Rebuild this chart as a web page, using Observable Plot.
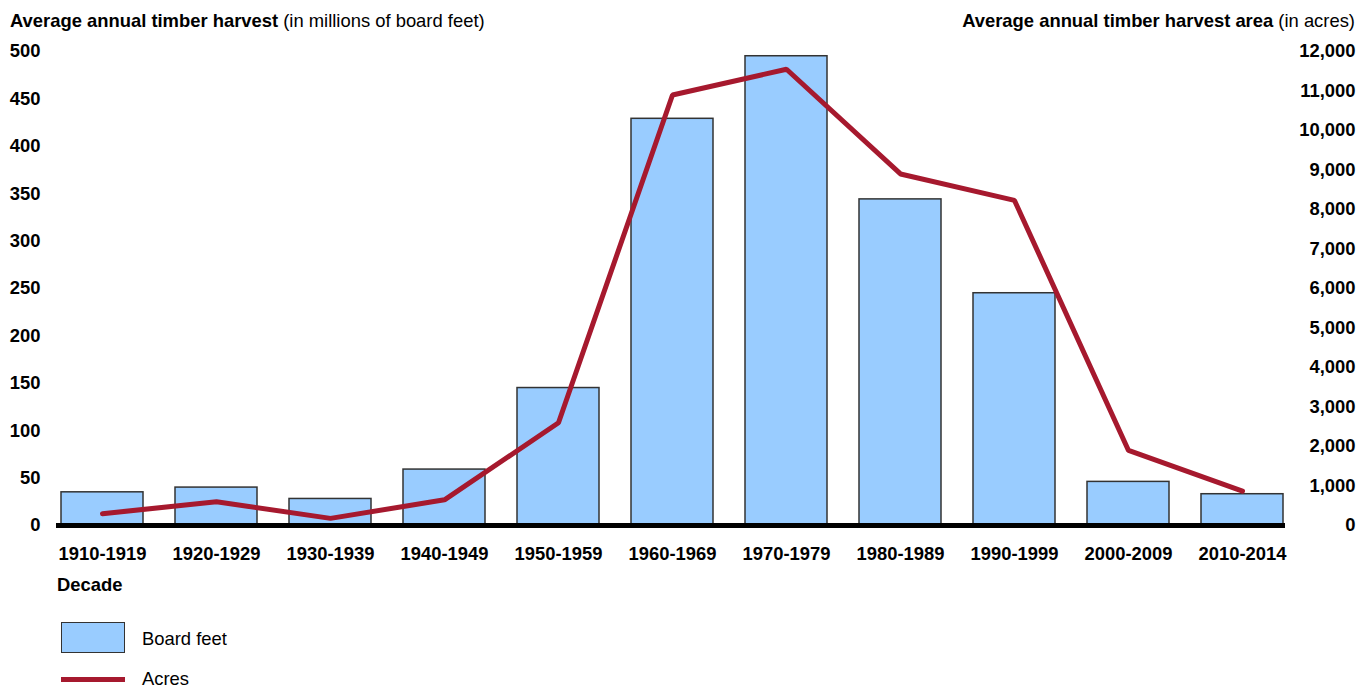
<!DOCTYPE html>
<html>
<head>
<meta charset="utf-8">
<script src="https://cdn.jsdelivr.net/npm/d3@7"></script>
<script src="https://cdn.jsdelivr.net/npm/@observablehq/plot@0.6"></script>
<style>
  html, body { margin: 0; padding: 0; background: #fff; }
  #wrap { position: relative; width: 1369px; height: 690px; font-family: "Liberation Sans", Arial, sans-serif; font-size: 18.4px; color: #000; }
  #wrap .t { position: absolute; line-height: 18px; white-space: nowrap; }
  #chart { position: absolute; left: 0; top: 0; }
  .sw-box { position: absolute; left: 61px; top: 622px; width: 62px; height: 29px; background: #99CCFF; border: 1.5px solid #333; }
  .sw-line { position: absolute; left: 61px; top: 676.5px; width: 64px; height: 5px; background: #A6192E; }
</style>
</head>
<body>
<div id="wrap">
  <div id="chart"></div>
  <div class="t" style="left:10px; top:12px;"><b>Average annual timber harvest</b> (in millions of board feet)</div>
  <div class="t" style="right:14px; top:12px;"><b>Average annual timber harvest area</b> (in acres)</div>
  <div class="t" style="left:57px; top:576px;"><b>Decade</b></div>
  <div class="sw-box"></div>
  <div class="t" style="left:142px; top:630px;">Board feet</div>
  <div class="sw-line"></div>
  <div class="t" style="left:142px; top:670px;">Acres</div>
</div>
<script>
const decades = ["1910-1919","1920-1929","1930-1939","1940-1949","1950-1959","1960-1969","1970-1979","1980-1989","1990-1999","2000-2009","2010-2014"];
const boardFeet = [35, 40, 28, 59, 145, 429, 495, 344, 245, 46, 33];
const acres = [300, 600, 180, 650, 2600, 10900, 11550, 8900, 8230, 1900, 870];
const leftTicks = [0, 50, 100, 150, 200, 250, 300, 350, 400, 450, 500];
const rightTicks = [0, 1000, 2000, 3000, 4000, 5000, 6000, 7000, 8000, 9000, 10000, 11000, 12000];

const ratio = 12000 / 500;
const data = decades.map((d, i) => ({decade: d, bf: boardFeet[i], acres: acres[i]}));

const chart = Plot.plot({
  width: 1369,
  height: 600,
  marginLeft: 56,
  marginRight: 84,
  marginTop: 51,
  marginBottom: 75,
  style: {fontFamily: '"Liberation Sans", Arial, sans-serif', fontSize: "18.4px", fontWeight: "bold", color: "#000", background: "transparent"},
  x: {domain: decades, paddingInner: 0.28, paddingOuter: 0.03, align: 0.7},
  y: {domain: [0, 500]},
  marks: [
    Plot.barY(data, {x: "decade", y: "bf", fill: "#99CCFF", stroke: "#333", strokeWidth: 1.5}),
    Plot.ruleY([0], {stroke: "#000", strokeWidth: 5}),
    Plot.line(data, {x: "decade", y: d => d.acres / ratio, stroke: "#A6192E", strokeWidth: 5, strokeLinejoin: "miter"}),
    Plot.axisY({anchor: "left", ticks: leftTicks, tickSize: 0, tickPadding: 16, label: null}),
    Plot.axisY({anchor: "right", ticks: rightTicks.map(v => v / ratio), tickFormat: v => d3.format(",")(Math.round(v * ratio)), tickSize: 0, tickPadding: 70, textAnchor: "end", label: null}),
    Plot.axisX({tickSize: 0, tickPadding: 21, label: null})
  ]
});
document.getElementById("chart").appendChild(chart);
</script>
</body>
</html>
